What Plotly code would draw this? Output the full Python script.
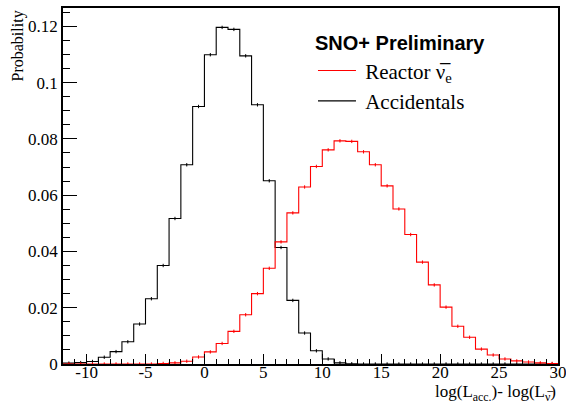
import plotly.graph_objects as go

# Bin edges: integer bins from -12 to 30 (width 1)
bin_left_edges = list(range(-12, 30))

accidentals = [0.0003, 0.0005, 0.0009, 0.0024, 0.0044, 0.0079, 0.0142, 0.0232, 0.0350, 0.0517,
               0.0708, 0.0915, 0.1099, 0.1196, 0.1189, 0.1095, 0.0921, 0.0651, 0.0414, 0.0226,
               0.0110, 0.0047, 0.0018, 0.0004, 0.0001, 0.0, 0.0, 0.0, 0.0, 0.0,
               0.0, 0.0, 0.0, 0.0, 0.0, 0.0, 0.0, 0.0, 0.0, 0.0, 0.0, 0.0]

reactor = [0.0, 0.0, 0.0, 0.0, 0.0, 0.0, 0.0, 0.0, 0.0002, 0.0004,
           0.0010, 0.0025, 0.0043, 0.0073, 0.0116, 0.0175, 0.0250, 0.0340, 0.0434, 0.0537,
           0.0629, 0.0702, 0.0761, 0.0793, 0.0791, 0.0754, 0.0708, 0.0633, 0.0551, 0.0460,
           0.0362, 0.0281, 0.0202, 0.0134, 0.0095, 0.0053, 0.0032, 0.0018, 0.0011, 0.0007,
           0.0004, 0.0002]

x_tick_vals = [-10, -5, 0, 5, 10, 15, 20, 25, 30]
x_tick_text = ["-10", "-5", "0", "5", "10", "15", "20", "25", "30"]
y_tick_vals = [0, 0.02, 0.04, 0.06, 0.08, 0.1, 0.12]
y_tick_text = ["0", "0.02", "0.04", "0.06", "0.08", "0.1", "0.12"]

step_x = bin_left_edges + [bin_left_edges[-1] + 1]
centers = [e + 0.5 for e in bin_left_edges]

SERIF = "Liberation Serif"

fig = go.Figure()

def add_hist(vals, color, name):
    fig.add_trace(go.Scatter(x=step_x, y=vals + [vals[-1]], mode="lines", line_shape="hv",
                             line=dict(color=color, width=1.1), name=name, showlegend=True))
    fig.add_trace(go.Scatter(x=centers, y=vals, mode="markers",
                             marker=dict(size=1, color=color),
                             error_y=dict(type="constant", value=0.0006, color=color,
                                          thickness=1, width=0),
                             showlegend=False, hoverinfo="skip"))

add_hist(accidentals, "black", "\u2009Accidentals")
add_hist(reactor, "#ff0000", "\u2009Reactor ν\u0305<sub>e</sub>")

axis_common = dict(showline=True, linecolor="black", linewidth=1.5, mirror=True,
                   showgrid=False, zeroline=False, ticks="inside", automargin=False,
                   ticklabeloverflow="allow",
                   tickcolor="black", tickfont=dict(family=SERIF, size=17, color="black"))

fig.update_layout(
    width=566, height=404,
    margin=dict(l=63, r=8, t=8, b=40, autoexpand=False),
    paper_bgcolor="white", plot_bgcolor="white",
    xaxis=dict(range=[-12, 30], tickvals=x_tick_vals, ticktext=x_tick_text, ticklen=10,
               ticklabelstandoff=-8,
               minor=dict(dtick=1, tick0=0, ticklen=5, ticks="inside", tickcolor="black"),
               **axis_common),
    yaxis=dict(range=[0, 0.1265], tickvals=y_tick_vals, ticktext=y_tick_text, ticklen=14,
               minor=dict(dtick=0.005, tick0=0, ticklen=7, ticks="inside", tickcolor="black"),
               **axis_common),
    legend=dict(x=0.505, y=0.954, xanchor="left", yanchor="top", traceorder="reversed",
                bgcolor="rgba(0,0,0,0)", borderwidth=0, itemwidth=38,
                font=dict(family=SERIF, size=21, color="black"),
                title=dict(text="<b>SNO+ Preliminary</b>",
                           font=dict(family="Liberation Sans", size=20, color="black"),
                           side="top")),
    showlegend=True,
)

fig.add_annotation(text="log(L<sub>acc.</sub>)- log(L<sub>ν\u0305</sub>)",
                   xref="paper", yref="paper", x=1.0, y=-0.082, xanchor="right", yanchor="middle",
                   showarrow=False, font=dict(family=SERIF, size=17, color="black"))
fig.add_annotation(text="Probability", textangle=-90,
                   xref="paper", yref="paper", x=-0.091, y=1.0, xanchor="center", yanchor="top",
                   showarrow=False, font=dict(family=SERIF, size=16, color="black"))

fig.write_html("out.html", post_script="document.body.style.margin='0';",
               config={"displayModeBar": False})
